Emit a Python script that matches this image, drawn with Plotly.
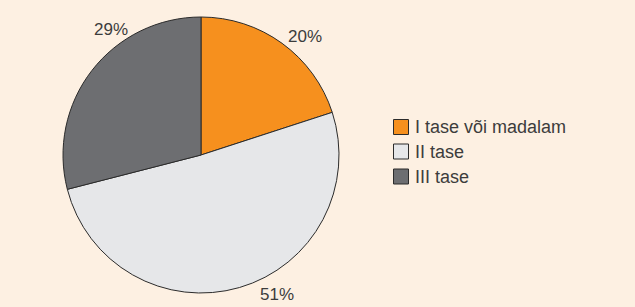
import plotly.graph_objects as go

categories = ["I tase või madalam", "II tase", "III tase"]
values = [20, 51, 29]
colors = ["#f6901e", "#e6e7e9", "#6d6e71"]

W, H = 635, 307
cx, cy, r = 201, 155, 138
FONT = "Liberation Sans, Arial, Helvetica, sans-serif"
TXT = "#3c3c3c"
BG = "#fdf0e2"

fig = go.Figure(go.Pie(
    labels=categories,
    values=values,
    sort=False,
    direction="clockwise",
    rotation=0,
    marker=dict(colors=colors, line=dict(color="#2b2b2b", width=1)),
    textinfo="none",
    domain=dict(x=[(cx - r) / W, (cx + r) / W], y=[(H - cy - r) / H, (H - cy + r) / H]),
    hoverinfo="label+percent",
    showlegend=False,
))

# percentage labels placed outside the pie
label_pos = [(304.5, 36), (276.5, 294), (111, 29)]
annotations = []
for v, (lx, ly) in zip(values, label_pos):
    annotations.append(dict(
        x=lx / W, y=1 - ly / H, xref="paper", yref="paper",
        text=f"{v}%", showarrow=False, xanchor="center", yanchor="middle",
        font=dict(family=FONT, size=17, color=TXT),
    ))

# legend drawn as squares + text
shapes = []
leg_x0, sq = 393.5, 15
row_y = [127, 151.5, 176.5]
for name, col, yc in zip(categories, colors, row_y):
    shapes.append(dict(
        type="rect", xref="paper", yref="paper",
        x0=leg_x0 / W, x1=(leg_x0 + sq) / W,
        y0=1 - (yc + sq / 2) / H, y1=1 - (yc - sq / 2) / H,
        fillcolor=col, line=dict(color="#2b2b2b", width=1),
    ))
    annotations.append(dict(
        x=413 / W, y=1 - yc / H, xref="paper", yref="paper",
        text=name, showarrow=False, xanchor="left", yanchor="middle",
        font=dict(family=FONT, size=18, color=TXT),
    ))

fig.update_layout(
    width=W, height=H,
    margin=dict(l=0, r=0, t=0, b=0),
    paper_bgcolor=BG,
    plot_bgcolor=BG,
    showlegend=False,
    annotations=annotations,
    shapes=shapes,
)

fig.write_html(
    "out.html",
    config={"displayModeBar": False},
    post_script=(
        "document.documentElement.style.margin='0';"
        "document.body.style.margin='0';document.body.style.padding='0';"
        f"document.body.style.background='{BG}';document.body.style.overflow='hidden';"
    ),
)
